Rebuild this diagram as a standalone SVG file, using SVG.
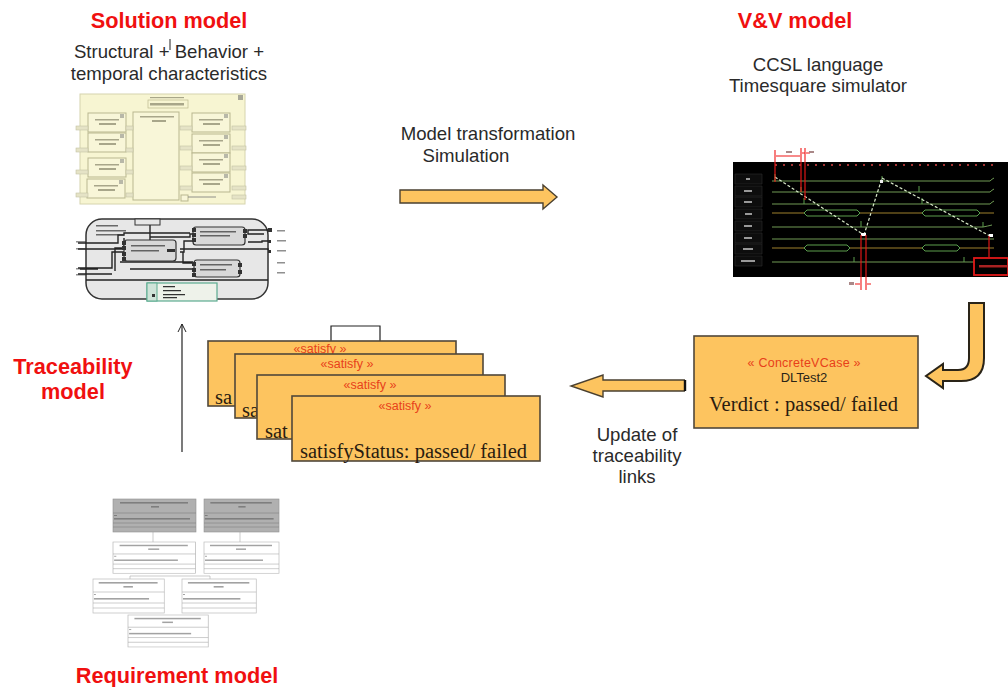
<svg xmlns="http://www.w3.org/2000/svg" width="1008" height="687" viewBox="0 0 1008 687">
<style>
text{font-family:"Liberation Sans",Arial,sans-serif}
.title{font-size:21.7px;font-weight:bold;fill:#f01010;text-anchor:middle}
.lbl{font-size:18.6px;fill:#2a2a2a;text-anchor:middle}
.box{fill:#fdc45f;stroke:#50483a;stroke-width:1.6}
.ster{font-size:12.5px;fill:#e8401a;text-anchor:middle}
.ser{font-family:"Liberation Serif","Times New Roman",serif;font-size:20.5px;fill:#2a1c10}
.arrow{fill:#fdc45f;stroke:#2a2418;stroke-width:2;stroke-linejoin:miter}
.arrow2{fill:#fdc45f;stroke:#4a4030;stroke-width:1.4}
.ypart{fill:#f8f6d8;stroke:#b9b78f;stroke-width:1}
.blur{fill:#8d8b70;opacity:.75}
.port{fill:#e5e3c6;stroke:#c4c2a4;stroke-width:.6}
.w{fill:none;stroke:#222;stroke-width:1.4}
.blk{fill:#d8d8d8;stroke:#333;stroke-width:1.2}
.dk{fill:#333}
.tl{fill:none;stroke:#6f9a55;stroke-width:1}
.tb{fill:none;stroke:#5aa050;stroke-width:1}
.red{fill:none;stroke:#f01818;stroke-width:1.1}
.dash{fill:none;stroke:#d8e8c8;stroke-width:1.2;stroke-dasharray:3 2}
.cell{fill:#0c0c0c;stroke:#2a2a2a;stroke-width:.7}
.clbl{fill:#999}
.g1{fill:#b0b0b0;stroke:#909090;stroke-width:.6}
.g2{fill:#fff;stroke:#bbb;stroke-width:.7}
.gl{stroke:#aaa;stroke-width:.6;fill:none}
.gt{fill:#555;opacity:.55}
</style>
<defs>
<filter id="soft" x="-5%" y="-5%" width="110%" height="110%"><feGaussianBlur stdDeviation="0.55"/></filter>
<filter id="soft2" x="-5%" y="-5%" width="110%" height="110%"><feGaussianBlur stdDeviation="0.35"/></filter>
<marker id="thin" markerWidth="12" markerHeight="10" refX="9" refY="5" orient="auto" markerUnits="userSpaceOnUse"><path d="M1 1L9 5L1 9" fill="none" stroke="#222" stroke-width="1"/></marker>
<g id="sb"><rect class="ypart" width="38" height="19"/><rect class="blur" x="7" y="6" width="24" height="1.5" opacity=".4"/><rect class="blur" x="11" y="10" width="17" height="2"/><rect x="32" y="1" width="4" height="4" fill="#b8b8a8"/></g>
<g id="req"><rect class="g2" width="75" height="34"/><path class="gl" d="M0 13H75M0 24H75M0 29H75"/><rect class="gt" x="6" y="3" width="62" height="1.6"/><rect class="gt" x="32" y="7" width="10" height="1.6"/><rect class="gt" x="1" y="15" width="2" height="1"/><rect class="gt" x="1" y="19" width="58" height="1.6"/></g>
<g id="reqd"><rect class="g1" width="83" height="33"/><path d="M0 14H83M0 24H83M0 28H83" stroke="#808080" stroke-width=".6" fill="none"/><rect class="gt" x="7" y="3" width="68" height="1.6"/><rect class="gt" x="38" y="7" width="8" height="1.6"/><rect class="gt" x="1" y="16" width="3" height="1"/><rect class="gt" x="1" y="19" width="76" height="1.6"/></g>
</defs>

<g id="solution-title"><text class="title" x="169" y="28">Solution model</text>
<text class="lbl" x="169" y="58">Structural + Behavior +</text>
<text class="lbl" x="169" y="80">temporal characteristics</text>
<path d="M170 39V50" stroke="#222" stroke-width="1"/></g>

<g id="functional-model" filter="url(#soft)">
<rect x="80" y="94" width="165" height="110" fill="#f7f5d2" stroke="#d6d4ae"/>
<rect x="148" y="100" width="40" height="8" fill="#f7f5d2" stroke="#bbb98f" stroke-width=".7"/>
<rect class="blur" x="150" y="97" width="34" height="1.2" opacity=".4"/>
<rect class="blur" x="150" y="103" width="34" height="2.5"/>
<rect x="238" y="95" width="5" height="5" fill="#a8a898"/>
<use href="#sb" x="88" y="113"/><use href="#sb" x="88" y="133"/><use href="#sb" x="88" y="158"/><use href="#sb" x="87" y="179"/>
<rect class="ypart" x="133" y="112" width="46" height="88"/>
<rect class="blur" x="140" y="116" width="34" height="1.5" opacity=".4"/><rect class="blur" x="152" y="120" width="14" height="2"/>
<use href="#sb" x="192" y="113"/><use href="#sb" x="192" y="134"/><use href="#sb" x="192" y="153"/><use href="#sb" x="192" y="173"/>
<rect class="port" x="76" y="126" width="12" height="4"/><rect class="port" x="76" y="148" width="12" height="4"/><rect class="port" x="76" y="170" width="12" height="4"/><rect class="port" x="76" y="193" width="12" height="4"/>
<rect class="port" x="126" y="126" width="7" height="4"/><rect class="port" x="126" y="148" width="7" height="4"/><rect class="port" x="126" y="170" width="7" height="4"/><rect class="port" x="126" y="193" width="7" height="4"/>
<rect class="port" x="180" y="126" width="12" height="4"/><rect class="port" x="180" y="146" width="12" height="4"/><rect class="port" x="180" y="166" width="12" height="4"/><rect class="port" x="180" y="186" width="12" height="4"/>
<rect class="port" x="232" y="126" width="14" height="4"/><rect class="port" x="232" y="146" width="14" height="4"/><rect class="port" x="232" y="166" width="14" height="4"/><rect class="port" x="232" y="186" width="14" height="4"/><rect class="port" x="232" y="195" width="14" height="4"/>
<rect class="ypart" x="181" y="195" width="7" height="6"/><path d="M188 197H216" stroke="#777" stroke-width=".8"/>
</g>

<g id="block-diagram" filter="url(#soft2)">
<rect x="86" y="219" width="182" height="80" rx="16" fill="#e7e7e7" stroke="#333" stroke-width="1.5"/>
<path class="w" d="M78 243H118V235H124V233H190M78 249H124V238M78 268H112V252H124M78 274H112M86 280H268M124 248H115V271M150 225V240M150 237H190V234H193M180 252H184V241H193M180 252H183V263H193M180 249H268V250M120 262H193M130 269H193M264 234H248V230H268M248 242H262V241H268M80 269H98"/>
<rect class="blk" x="124" y="240" width="52" height="21" rx="3"/>
<rect class="blk" x="193" y="227" width="52" height="18" rx="3"/>
<rect class="blk" x="194" y="260" width="46" height="17" rx="3"/>
<rect class="dk" x="122" y="241" width="4" height="4"/><rect class="dk" x="122" y="246" width="4" height="4"/><rect class="dk" x="122" y="252" width="4" height="4"/><rect class="dk" x="122" y="257" width="4" height="4"/>
<rect class="dk" x="192" y="228" width="4" height="4"/><rect class="dk" x="192" y="233" width="4" height="4"/><rect class="dk" x="192" y="238" width="4" height="4"/><rect class="dk" x="243" y="229" width="4" height="4"/><rect class="dk" x="243" y="234" width="4" height="4"/>
<rect class="dk" x="192" y="262" width="4" height="4"/><rect class="dk" x="192" y="268" width="4" height="4"/><rect class="dk" x="192" y="273" width="4" height="4"/><rect class="dk" x="238" y="263" width="4" height="4"/><rect class="dk" x="238" y="270" width="4" height="4"/>
<rect class="dk" x="167" y="249" width="8" height="3"/>
<path class="dk" d="M131 245h34v1.5h-34zM131 250h28v1.5h-28zM200 231h36v1.5h-36zM200 235h30v1.5h-30zM200 264h32v1.5h-32zM200 269h26v1.5h-26zM96 225h22v1.5h-22zM96 230h30v1.5h-30zM96 234h28v1.5h-28z" opacity=".7"/>
<rect x="135" y="219" width="25" height="6" fill="#e7e7e7" stroke="#333"/>
<rect x="147" y="283" width="70" height="18" fill="#eef2ea" stroke="#5bab8f" stroke-width="1.2"/>
<rect x="147" y="283" width="10" height="18" fill="#cfe3d8" stroke="#5bab8f"/>
<rect x="152" y="294" width="3" height="3" fill="#333"/>
<path class="dk" d="M163 286h12v1.2h-12zM163 290h18v1.2h-18zM163 294h22v1.2h-22zM163 297h14v1.2h-14z"/>
<path class="dk" opacity=".55" d="M76 241h10v1.5h-10zM76 248h10v1.5h-10zM76 268h10v1.5h-10zM76 274h10v1.5h-10zM277 230h8v1.5h-8zM277 240h9v1.5h-9zM277 250h9v1.5h-9zM277 262h8v1.5h-8zM277 272h8v1.5h-8z"/>
<rect class="dk" x="268" y="228" width="4" height="4"/><rect class="dk" x="268" y="240" width="3" height="3"/><rect class="dk" x="268" y="250" width="3" height="3"/>
</g>

<g id="connectors">
<path d="M400 190H543V185L557 197L543 209V203H400Z" class="arrow2"/>
<path d="M685 380H603V375L571 386L603 397V391H685" class="arrow2"/>
<path d="M685 380V391" stroke="#111" stroke-width="2.4"/>
<path d="M969 303H984V358Q984 381 961 381H943V388L926 376L943 364V370H958Q969 370 969 358Z" class="arrow"/>
<path d="M182 452V324" fill="none" stroke="#222" stroke-width="1.2" marker-end="url(#thin)"/>
</g>

<g id="transform-label"><text class="lbl" x="488" y="140">Model transformation</text><text class="lbl" x="466" y="162">Simulation</text></g>

<g id="vv-title"><text class="title" x="795" y="28">V&amp;V model</text>
<text class="lbl" x="818" y="71">CCSL language</text><text class="lbl" x="818" y="92">Timesquare simulator</text></g>

<g id="timing-chart" filter="url(#soft2)">
<rect x="733" y="162" width="275" height="115" fill="#000"/>
<g id="cells"><rect class="cell" x="735" y="174" width="27" height="10"/><rect class="cell" x="735" y="186" width="27" height="10"/><rect class="cell" x="735" y="197" width="27" height="10"/><rect class="cell" x="735" y="209" width="27" height="10"/><rect class="cell" x="735" y="221" width="27" height="10"/><rect class="cell" x="735" y="233" width="27" height="10"/><rect class="cell" x="735" y="244" width="27" height="10"/><rect class="cell" x="735" y="256" width="27" height="10"/>
<rect class="clbl" x="746" y="178" width="4" height="2"/><rect class="clbl" x="744" y="190" width="8" height="2"/><rect class="clbl" x="744" y="201" width="8" height="2"/><rect class="clbl" x="745" y="213" width="7" height="2"/><rect class="clbl" x="744" y="225" width="8" height="2"/><rect class="clbl" x="744" y="237" width="8" height="2"/><rect class="clbl" x="743" y="248" width="10" height="2"/><rect class="clbl" x="741" y="260" width="14" height="2"/></g>
<path class="tl" d="M772 181H990Q992 179 994 178M772 192H990Q992 190 994 189M772 204H990Q992 202 994 201M772 227H983Q988 226 992 225M772 239H994M772 262H994"/>
<path d="M772 213H804M860 213H922M980 213H994M772 248H804M850 248H922M960 248H994" stroke="#a08030" stroke-width="1" fill="none"/>
<path class="tb" d="M804 213L807 210H857L860 213L857 216H807ZM922 213L925 210H977L980 213L977 216H925ZM804 248L807 245H847L850 248L847 251H807ZM922 248L925 245H957L960 248L957 251H925Z"/>
<path class="tb" d="M775 174V181M801 187V192M804 198V204M861 221V227M919 186V192M922 198V204M983 222V227M854 257V262M964 257V262M882 176V181"/>
<path class="dash" d="M775 177L864 235M864 235L882 178M882 178L990 236"/>
<rect x="861" y="233" width="5" height="3" fill="#fff"/><rect x="880" y="180" width="3" height="3" fill="#eee"/><rect x="989" y="234" width="4" height="3" fill="#fff"/>
<path stroke="#d84040" stroke-width="1.4" stroke-dasharray="2 6" d="M775 165H994" fill="none"/>
<path class="red" d="M775 150V182M801 148V192M805 148V200M861 235V290M866 235V290M989 236V257"/>
<path class="red" d="M776 156H800M802 153H805M806 153H810M855 284H860M867 284H871"/>
<rect x="974" y="258" width="34" height="17" fill="#000" stroke="#e01818" stroke-width="1.8"/>
<rect x="979" y="265" width="29" height="2.5" fill="#a82020"/>
<rect x="786" y="151" width="6" height="2" fill="#a88"/><rect x="809" y="151" width="5" height="2" fill="#a88"/><rect x="849" y="282" width="5" height="3" fill="#a88"/>
</g>

<g id="traceability-title"><text class="title" x="73" y="374">Traceability</text><text class="title" x="73" y="399">model</text></g>

<g id="satisfy-links">
<path d="M331 341V326H380V375" fill="none" stroke="#222" stroke-width="1.2"/>
<g id="satisfy-1"><rect class="box" x="208" y="341" width="248" height="65"/><text class="ster" x="320" y="353">«satisfy »</text><text class="ser" x="215" y="404">sa</text></g>
<g id="satisfy-2"><rect class="box" x="235" y="354" width="248" height="64"/><text class="ster" x="347" y="368">«satisfy »</text><text class="ser" x="242" y="417">sa</text></g>
<g id="satisfy-3"><rect class="box" x="257" y="375" width="248" height="64"/><text class="ster" x="370" y="389">«satisfy »</text><text class="ser" x="265" y="438">sat</text></g>
<g id="satisfy-4"><rect class="box" x="292" y="396" width="248" height="65"/><text class="ster" x="405" y="410">«satisfy »</text><text class="ser" x="300" y="458" textLength="227">satisfyStatus: passed/ failed</text></g>
</g>

<g id="verdict"><rect class="box" x="694" y="336" width="224" height="92"/>
<text class="ster" x="804" y="367" textLength="113">« ConcreteVCase »</text>
<text x="804" y="382" font-size="13" fill="#2a2418" text-anchor="middle">DLTest2</text>
<text class="ser" x="709" y="411" textLength="189">Verdict : passed/ failed</text></g>

<g id="update-label"><text class="lbl" x="637" y="441">Update of</text><text class="lbl" x="637" y="462">traceability</text><text class="lbl" x="637" y="483">links</text></g>

<g id="requirements" filter="url(#soft)">
<path class="gl" d="M153 532V542M240 532V542M167 576H130V580M167 576H210V580"/>
<use href="#reqd" x="113" y="499"/>
<g transform="translate(204 499) scale(.904 1)"><use href="#reqd"/></g>
<g transform="translate(113 542) scale(1.1 .92)"><use href="#req"/></g>
<g transform="translate(204 542) scale(1 .92)"><use href="#req"/></g>
<g transform="translate(93 579) scale(.95 1)"><use href="#req"/></g>
<g transform="translate(182 579) scale(.99 1)"><use href="#req"/></g>
<g transform="translate(128 615) scale(1.07 .94)"><use href="#req"/></g>
</g>

<g id="requirement-title"><text class="title" x="177" y="683">Requirement model</text></g>
</svg>
